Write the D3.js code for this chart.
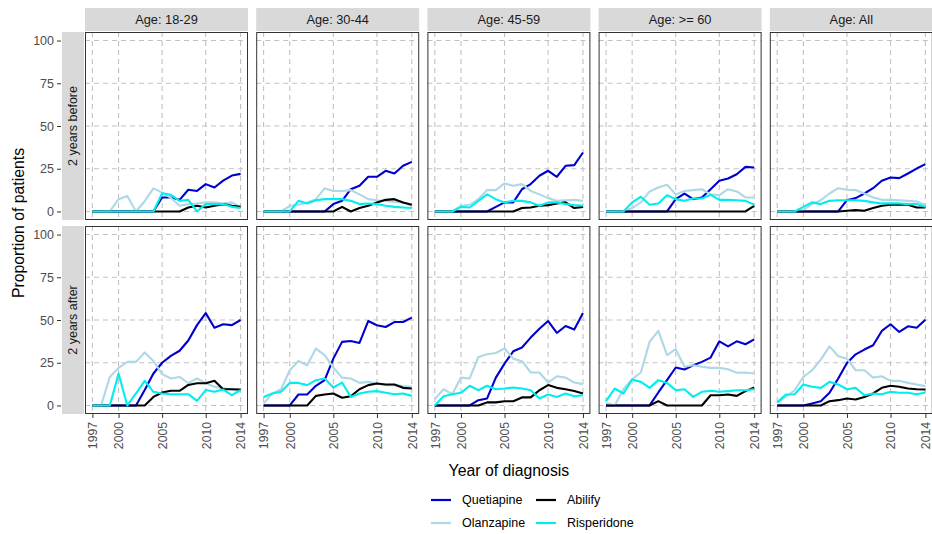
<!DOCTYPE html>
<html>
<head>
<meta charset="utf-8">
<script src="https://cdn.jsdelivr.net/npm/d3@7"></script>
<style>
  body { margin: 0; background: #fff; }
  text { font-family: "Liberation Sans", Arial, sans-serif; }
</style>
</head>
<body>
<div id="chart"></div>
<script>
// categories and ticks
const years = [1997, 1998, 1999, 2000, 2001, 2002, 2003, 2004, 2005, 2006, 2007, 2008, 2009, 2010, 2011, 2012, 2013, 2014];
const xTicks = [1997, 2000, 2005, 2010, 2014];
const yTicks = [0, 25, 50, 75, 100];
const ageGroups = ["Age: 18-29", "Age: 30-44", "Age: 45-59", "Age: >= 60", "Age: All"];
const periods = ["2 years before", "2 years after"];
const drugs = ["Quetiapine", "Olanzapine", "Abilify", "Risperidone"];
const drugColors = ["#0000cd", "#add8e6", "#000000", "#00eeee"];

// 2 years before diagnosis, one array per age group
const quetiapineBefore = [
  [0, 0, 0, 0, 0, 0, 0, 0, 8.2, 8.2, 6.8, 12.7, 12, 16, 14, 18, 21, 22],
  [0, 0, 0, 0, 0, 0, 0, 0, 4.3, 6.2, 13, 15, 20.3, 20.3, 23.8, 22.2, 26.7, 29],
  [0, 0, 0, 0, 0, 0, 0, 2.7, 5.3, 5.3, 13, 16, 20.9, 23.8, 20.3, 26.7, 27.1, 34.5],
  [0, 0, 0, 0, 0, 0, 0, 0, 7.2, 10.5, 7.2, 8.2, 13, 18, 19.3, 21.8, 26.1, 25.7],
  [0, 0, 0, 0, 0, 0, 0, 0, 6.6, 7.8, 10.5, 13.6, 18, 19.9, 19.5, 22.2, 25.1, 27.7]
];
const olanzapineBefore = [
  [0, 0, 0, 7.2, 9, 0, 6, 13.5, 11, 8, 3.3, 4.3, 4.7, 5.3, 5.3, 4.7, 5.3, 2.3],
  [0, 0, 0, 3.3, 3.9, 5.3, 7.2, 13.5, 12, 12, 12.5, 10, 7.2, 6.6, 6.2, 5.6, 5.3, 3.3],
  [0, 0, 0, 3.3, 3.9, 7.2, 12.5, 12.5, 16.4, 15, 16, 12, 10, 7.8, 6.2, 6.6, 6.8, 6.2],
  [0, 0, 0, 2, 5.3, 11.7, 14, 15.6, 10, 12, 12.5, 13, 10, 9.5, 13, 11.7, 8.2, 8.2],
  [0, 0, 0, 1, 4.3, 6.6, 10.5, 13.6, 12.7, 12.5, 10.5, 8.2, 6.8, 6.8, 6.6, 6.2, 5.8, 3.9]
];
const abilifyBefore = [
  [0, 0, 0, 0, 0, 0, 0, 0, 0, 0, 0, 2.3, 3.3, 2.3, 3.3, 4.3, 3.3, 2.7],
  [0, 0, 0, 0, 0, 0, 0, 0, 0, 2.7, 0, 2, 3.3, 5.3, 6.8, 7.2, 5.3, 3.9],
  [0, 0, 0, 0, 0, 0, 0, 0, 0, 0, 2, 2.3, 3.3, 3.7, 4.7, 5.3, 2, 2.7],
  [0, 0, 0, 0, 0, 0, 0, 0, 0, 0, 0, 0, 0, 0, 0, 0, 0, 3.3],
  [0, 0, 0, 0, 0, 0, 0, 0, 0.4, 0.8, 0.4, 2, 3.3, 3.9, 3.9, 3.9, 2.3, 2.3]
];
const risperidoneBefore = [
  [0, 0, 0, 0, 0, 0, 0, 0, 10.7, 9.7, 6.2, 6.8, 0, 4.3, 4.3, 4.3, 2.7, 2],
  [0, 0, 0, 0, 6.2, 4.7, 6.6, 7.2, 7.2, 7.2, 6.2, 4.3, 4.7, 4.3, 3.3, 2.7, 2.3, 2],
  [0, 0, 0, 2.7, 2.3, 6.2, 10, 7.2, 5.3, 6.2, 6.2, 5.3, 3.3, 5.3, 5.3, 4.3, 3.7, 3.3],
  [0, 0, 0, 5.3, 8.6, 3.9, 4.7, 9.5, 7.2, 6.2, 7.6, 7.6, 9.7, 6.8, 6.8, 6.6, 6.2, 3.9],
  [0, 0, 0, 2.7, 5.3, 4.3, 6.2, 6.6, 6.6, 6.6, 6.2, 5.3, 4.7, 4.7, 4.7, 4.3, 4.3, 2.7]
];

// 2 years after diagnosis
const quetiapineAfter = [
  [0, 0, 0, 0, 0, 0, 9, 18.7, 25, 29, 32, 38, 47, 54, 45.5, 47.5, 47, 50],
  [0, 0, 0, 0, 6.4, 6.4, 11.5, 14.8, 27.4, 37.2, 37.7, 36.6, 49.4, 46.9, 45.9, 48.8, 48.8, 51.4],
  [0, 0, 0, 0, 0, 3.1, 4.1, 16.3, 24.5, 31.7, 33.9, 39.7, 44.9, 49.4, 42.4, 46.5, 44.4, 54.1],
  [0, 0, 0, 0, 0, 0, 7.6, 14.8, 22.2, 21, 23.5, 25.5, 28, 37.5, 34.6, 37.5, 35.8, 38.7],
  [0, 0, 0, 0, 1.2, 2.5, 7.4, 15.8, 24.9, 29.9, 32.7, 35.2, 43.6, 47.5, 43, 46.3, 45.5, 50.2]
];
const olanzapineAfter = [
  [0, 0, 16.7, 22, 25.5, 25.5, 31, 26, 18.3, 15.8, 16.7, 13, 15.8, 13, 11, 10, 9.5, 8],
  [1.2, 7, 9.5, 20.6, 26, 23.5, 33.3, 29.4, 22.2, 16.3, 15.8, 13.2, 13.8, 12.8, 11.9, 11.9, 11.3, 10.9],
  [3.7, 9.5, 6.6, 16.3, 15.8, 28.4, 30, 30.7, 33.3, 27.4, 25.9, 19.3, 19.3, 13.4, 17.1, 16.3, 13.4, 12.5],
  [1.6, 0, 9.5, 15.4, 19.3, 37.2, 43.6, 29.4, 32.9, 22.6, 23.5, 22.6, 22, 22, 21.2, 19.1, 19.3, 18.7],
  [1.8, 5, 8.9, 16.7, 20.6, 26.8, 34.6, 28.8, 27.4, 20.6, 20.6, 16.3, 17.1, 14.4, 14.4, 13.2, 12.3, 11.3]
];
const abilifyAfter = [
  [0, 0, 0, 0, 0, 0, 0, 5, 7.6, 8.6, 8.6, 12, 13, 13, 14.4, 9.5, 9.5, 9.3],
  [0, 0, 0, 0, 0, 0, 5.6, 6.4, 7, 4.5, 5.4, 9.5, 11.9, 12.8, 12.3, 12.3, 10.3, 9.9],
  [0, 0, 0, 0, 0, 0, 1.8, 1.8, 2.5, 2.5, 4.7, 4.7, 8.9, 11.9, 10.3, 9.5, 8.4, 7],
  [0, 0, 0, 0, 0, 0, 2.5, 0, 0, 0, 0, 0, 6, 6, 6.4, 5.6, 8.4, 10.5],
  [0, 0, 0, 0, 0, 0, 2.5, 3.1, 4.1, 3.5, 5, 7, 10.3, 11.5, 10.9, 9.9, 9.5, 9.3]
];
const risperidoneAfter = [
  [0, 0, 0, 18.7, 0, 7, 14.4, 8, 7, 6.6, 6.6, 6.6, 2.7, 9, 8, 9.3, 6, 9],
  [5, 7, 8, 13.2, 13.2, 11.9, 14.8, 15.8, 10.5, 13.4, 5, 7, 8, 8.4, 7.4, 6.6, 7, 5.6],
  [0, 5.4, 6.6, 7.4, 11.5, 8.9, 11.5, 9.5, 9.9, 10.5, 9.9, 8.9, 4.1, 6.4, 5, 7, 5.4, 6],
  [2.5, 9.9, 7, 15.2, 13.8, 10.3, 14.8, 13.2, 8.9, 9.5, 5, 8, 8.6, 8, 8.4, 8.9, 8.9, 9.5],
  [1.8, 6.4, 6.6, 12.3, 10.9, 10.3, 13.8, 12.3, 9.5, 10.3, 6, 7, 6.6, 8, 7.4, 7.4, 6.6, 7.6]
];

const seriesByPeriod = [
  [quetiapineBefore, olanzapineBefore, abilifyBefore, risperidoneBefore],
  [quetiapineAfter, olanzapineAfter, abilifyAfter, risperidoneAfter]
];

// layout
const width = 932, height = 534;
const panelW = 163, panelH = 188;
const panelLeft = 85, panelStep = 171.2;
const panelTops = [32, 226];

const svg = d3.select("#chart")
  .append("svg")
    .attr("width", width)
    .attr("height", height);

svg.append("rect").attr("width", width).attr("height", height).attr("fill", "#fff");

const x = d3.scaleLinear()
  .domain([1997 - 0.85, 2014 + 0.85])
  .range([0, panelW]);
const y = d3.scaleLinear()
  .domain([-5, 105])
  .range([panelH, 0]);

const line = d3.line()
  .x((d, i) => x(years[i]))
  .y(d => y(d));

periods.forEach((period, r) => {
  const top = panelTops[r];

  // row strip on the left
  svg.append("rect")
    .attr("x", 62).attr("y", top)
    .attr("width", 22).attr("height", panelH)
    .attr("fill", "#d9d9d9");
  svg.append("text")
    .attr("transform", `translate(73,${top + panelH / 2}) rotate(-90)`)
    .attr("text-anchor", "middle")
    .attr("dominant-baseline", "central")
    .attr("font-size", 12.5)
    .attr("fill", "#1a1a1a")
    .text(period);

  // y axis
  const yAxis = svg.append("g")
    .attr("transform", `translate(61,${top})`)
    .call(d3.axisLeft(y).tickValues(yTicks).tickSize(4).tickPadding(3));
  yAxis.select(".domain").remove();
  yAxis.selectAll("line").attr("stroke", "#333");
  yAxis.selectAll("text")
    .attr("font-size", 12.5)
    .attr("fill", "#4d4d4d")
    .style("font-family", '"Liberation Sans", Arial, sans-serif');

  ageGroups.forEach((age, c) => {
    const left = panelLeft + c * panelStep;
    const g = svg.append("g").attr("transform", `translate(${left},${top})`);

    g.append("rect")
      .attr("width", panelW).attr("height", panelH)
      .attr("fill", "#fff");

    // dashed grid
    g.selectAll(".vgrid")
      .data(xTicks)
      .enter().append("line")
        .attr("x1", d => x(d)).attr("x2", d => x(d))
        .attr("y1", 0).attr("y2", panelH)
        .attr("stroke", "#c2c2c2")
        .attr("stroke-width", 1.1)
        .attr("stroke-dasharray", "5,4");
    g.selectAll(".hgrid")
      .data(yTicks)
      .enter().append("line")
        .attr("x1", 0).attr("x2", panelW)
        .attr("y1", d => y(d)).attr("y2", d => y(d))
        .attr("stroke", "#c2c2c2")
        .attr("stroke-width", 1.1)
        .attr("stroke-dasharray", "5,4");

    // drug lines
    seriesByPeriod[r].forEach((s, k) => {
      g.append("path")
        .datum(s[c])
        .attr("fill", "none")
        .attr("stroke", drugColors[k])
        .attr("stroke-width", 2.1)
        .attr("stroke-linejoin", "round")
        .attr("d", line);
    });

    g.append("rect")
      .attr("x", 0.5).attr("y", 0.5)
      .attr("width", panelW - 1).attr("height", panelH - 1)
      .attr("fill", "none")
      .attr("stroke", "#333")
      .attr("stroke-width", 1);

    // column strip
    if (r === 0) {
      svg.append("rect")
        .attr("x", left).attr("y", 8)
        .attr("width", panelW).attr("height", 23)
        .attr("fill", "#d9d9d9");
      svg.append("text")
        .attr("x", left + panelW / 2).attr("y", 19.5)
        .attr("text-anchor", "middle")
        .attr("dominant-baseline", "central")
        .attr("font-size", 12.8)
        .attr("fill", "#1a1a1a")
        .text(age);
    }

    // x axis under bottom row
    if (r === 1) {
      const xAxis = svg.append("g")
        .attr("transform", `translate(${left},${top + panelH})`)
        .call(d3.axisBottom(x).tickValues(xTicks).tickFormat(d3.format("d")).tickSize(4));
      xAxis.select(".domain").remove();
      xAxis.selectAll("line").attr("stroke", "#333");
      xAxis.selectAll("text")
        .attr("transform", "rotate(-90)")
        .attr("text-anchor", "end")
        .attr("x", -8).attr("y", 0)
        .attr("dy", "0.35em")
        .attr("font-size", 12.2)
        .attr("fill", "#4d4d4d")
        .style("font-family", '"Liberation Sans", Arial, sans-serif');
    }
  });
});

// axis titles
svg.append("text")
  .attr("x", panelLeft + (4 * panelStep + panelW) / 2).attr("y", 476)
  .attr("text-anchor", "middle")
  .attr("font-size", 15.8)
  .attr("fill", "#000")
  .text("Year of diagnosis");
svg.append("text")
  .attr("transform", `translate(24,${(panelTops[0] + panelTops[1] + panelH) / 2}) rotate(-90)`)
  .attr("text-anchor", "middle")
  .attr("font-size", 15.8)
  .attr("fill", "#000")
  .text("Proportion of patients");

// legend, filled by column
const legendX = [431, 536], legendY = [500, 523];
drugs.forEach((name, k) => {
  const col = Math.floor(k / 2), row = k % 2;
  const lg = svg.append("g")
    .attr("transform", `translate(${legendX[col]},${legendY[row]})`);
  lg.append("line")
    .attr("x1", 0).attr("x2", 20)
    .attr("stroke", drugColors[k])
    .attr("stroke-width", 2.2);
  lg.append("text")
    .attr("x", 31)
    .attr("dominant-baseline", "central")
    .attr("font-size", 12.5)
    .attr("fill", "#000")
    .text(name);
});
</script>
</body>
</html>
